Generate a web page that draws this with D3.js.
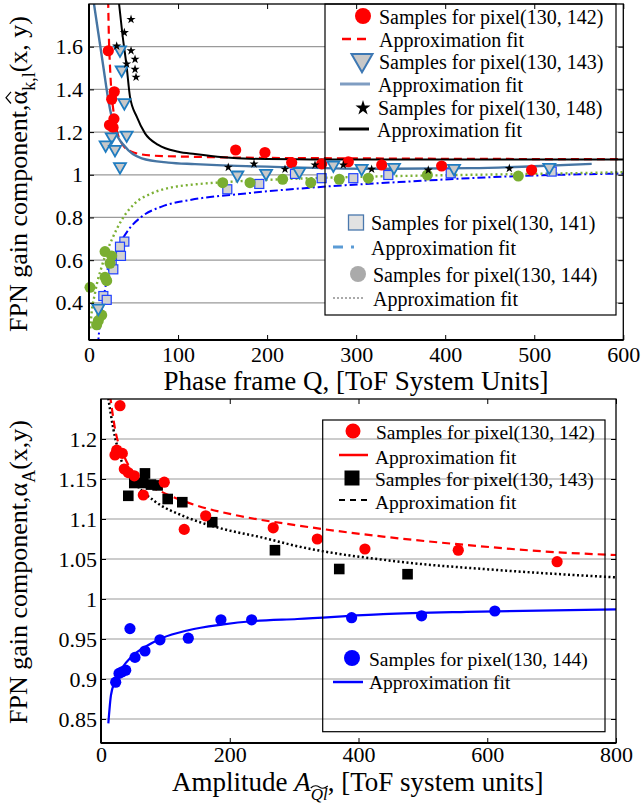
<!DOCTYPE html>
<html>
<head>
<meta charset="utf-8">
<script src="https://cdn.jsdelivr.net/npm/d3@7"></script>
<style>
  body { margin: 0; background: #fff; }
  svg { display: block; }
  text { font-family: "Liberation Serif", "Times New Roman", serif; fill: #000; }
</style>
</head>
<body>
<svg id="chart" width="642" height="804"></svg>
<script>
// ---------- Upper panel: FPN gain vs. phase frame Q ----------
const qTicks = [0, 100, 200, 300, 400, 500, 600];
const gainTicksQ = [0.4, 0.6, 0.8, 1.0, 1.2, 1.4, 1.6];

// samples per pixel: [Q, gain]
const samplesQ142 = [[21.7,1.581],[28.4,1.389],[25.5,1.354],[28.0,1.262],[23.0,1.233],[27.0,1.222],
  [164.7,1.116],[197.6,1.104],[227.6,1.057],[261.3,1.051],[291.2,1.061],[328.7,1.046],[396,1.041],[497,1.022]];
const samplesQ143 = [[34.8,1.585],[36.7,1.491],[39.7,1.338],[25.5,1.178],[42.3,1.186],[18.7,1.140],[29.2,1.119],
  [34.8,1.038],[10.5,0.375],[166.6,0.999],[198.8,1.007],[236.2,1.015],[274.4,1.046],[306.2,1.030],[342.5,1.035],
  [409.9,1.030],[516.9,1.035]];
const samplesQ148 = [[47.2,1.728],[39.7,1.666],[31.1,1.603],[47.2,1.581],[51.7,1.541],[42.3,1.519],[51.7,1.494],
  [52.8,1.457],[156.4,1.035],[185.3,1.051],[220.1,1.026],[253.8,1.046],[285.6,1.046],[317.4,1.026],[381,1.022],[472,1.030]];
const samplesQ141 = [[39.7,0.687],[34.8,0.663],[35.9,0.620],[25.5,0.578],[27.3,0.557],[16.1,0.432],[19.9,0.414],
  [155.3,0.932],[191.2,0.957],[231.3,1.004],[261.3,0.984],[296.8,0.984],[336.1,0.999],[406.2,1.007],[519.6,1.015]];
const samplesQ144 = [[18,0.640],[25.5,0.620],[23.6,0.585],[18,0.520],[19.9,0.504],[1.1,0.473],[14.3,0.343],
  [10.5,0.317],[8.6,0.297],[150.1,0.963],[180.8,0.963],[217.5,0.979],[249,0.963],[281.1,0.979],[313.7,0.984],
  [379.9,0.999],[482.1,0.994]];

// approximation fits, traced as [Q, gain]
const fitQ142 = [[21.5,1.82],[22.3,1.65],[23.6,1.506],[25.3,1.38],[27.3,1.304],[31.1,1.21],[36.7,1.148],[47.9,1.108],
  [70.4,1.090],[119,1.084],[200,1.079],[300,1.077],[400,1.075],[600,1.073]];
const fitQ143 = [[4.9,1.82],[10.5,1.663],[16.1,1.506],[21.7,1.35],[29.2,1.21],[40.4,1.132],[59.2,1.077],[89,1.057],
  [119,1.050],[150,1.044],[225,1.035],[320,1.028],[430,1.031],[500,1.040],[564.5,1.051]];
const fitQ148 = [[33.7,1.803],[37.4,1.663],[42.3,1.506],[46.0,1.366],[53.6,1.272],[62.9,1.194],[77.8,1.140],
  [100.3,1.108],[119,1.097],[150.8,1.082],[180.8,1.075],[250,1.072],[400,1.071],[600,1.071]];
const fitQ141 = [[10,0.2],[10.5,0.226],[16.1,0.414],[23.6,0.57],[32.9,0.663],[44.1,0.741],[59.2,0.804],[81.6,0.851],
  [115,0.883],[170,0.91],[263,0.944],[357,0.968],[469,0.992],[600,1.006]];
const fitQ144 = [[1.5,0.28],[2.2,0.32],[6.7,0.445],[14.3,0.57],[25.5,0.695],[36.7,0.788],[51.7,0.867],[70.4,0.913],
  [92.9,0.941],[119,0.955],[150,0.965],[210,0.978],[300,0.99],[400,0.998],[500,1.004],[600,1.012]];

// ---------- Lower panel: FPN gain vs. amplitude ----------
const ampTicks = [0, 200, 400, 600, 800];
const gainTicksA = [0.85, 0.9, 0.95, 1.0, 1.05, 1.1, 1.15, 1.2];

const samplesA142 = [[29.5,1.2416],[24.4,1.186],[21.7,1.180],[33.1,1.182],[36.2,1.1625],[42.4,1.158],[51.7,1.154],
  [65.7,1.130],[98.3,1.146],[129.3,1.087],[162.6,1.104],[267.5,1.089],[336,1.075],[410,1.0625],[555,1.061],[708.5,1.0466]];
const samplesA143 = [[42.4,1.129],[51.7,1.145],[68.3,1.157],[65.7,1.145],[77.6,1.143],[88,1.142],[103.6,1.125],
  [126.3,1.121],[172.8,1.096],[270.2,1.061],[370.1,1.0375],[476.2,1.031]];
const samplesA144 = [[45,0.963],[22.8,0.896],[28,0.907],[33,0.909],[38.4,0.911],[52.8,0.927],[68.3,0.935],
  [91.6,0.949],[135.6,0.951],[186.3,0.974],[234,0.974],[389.3,0.9766],[498,0.979],[611.8,0.985]];

const fitA142 = [[14,1.255],[21.7,1.213],[37.3,1.176],[57.9,1.151],[94.3,1.134],[146,1.1175],[208,1.105],
  [305,1.092],[438,1.078],[568,1.0675],[697,1.059],[800,1.055]];
const fitA143 = [[11.4,1.251],[19.1,1.213],[32.1,1.172],[52.8,1.145],[83.9,1.122],[130.4,1.103],[187.4,1.088],
  [249.5,1.077],[305,1.066],[464,1.0466],[620,1.036],[800,1.027]];
const fitA144 = [[11.4,0.8446],[15.5,0.88],[21.7,0.8967],[32.1,0.913],[47.6,0.928],[68.3,0.940],[94.3,0.951],
  [135.6,0.961],[187.4,0.968],[239,0.9725],[305,0.975],[438,0.981],[568,0.984],[800,0.987]];

const SERIF = '"Liberation Serif", "Times New Roman", serif';
const svg = d3.select("#chart");
const fmt = d3.format("~g");

function trianglePath(w) {
  const h = w * 0.87;
  return `M${-w/2},${-h/3}H${w/2}L0,${2*h/3}Z`;
}

function frameAndAxes(g, x, y, xTicks, yTicks, xPad, yPad, fs) {
  const [x0, x1] = x.range(), [y0, y1] = y.range();
  const style = sel => {
    sel.select(".domain").remove();
    sel.attr("font-family", SERIF).attr("font-size", fs);
    sel.selectAll(".tick line").attr("stroke", "#000").attr("stroke-width", 1);
    sel.selectAll(".tick text").attr("fill", "#000");
  };
  g.append("g").attr("transform", `translate(0,${y0})`)
    .call(d3.axisBottom(x).tickValues(xTicks).tickFormat(fmt).tickSizeInner(-5).tickSizeOuter(0).tickPadding(xPad)).call(style);
  g.append("g").attr("transform", `translate(0,${y1})`)
    .call(d3.axisTop(x).tickValues(xTicks).tickFormat("").tickSizeInner(-5).tickSizeOuter(0)).call(style);
  g.append("g").attr("transform", `translate(${x0},0)`)
    .call(d3.axisLeft(y).tickValues(yTicks).tickFormat(fmt).tickSizeInner(-5).tickSizeOuter(0).tickPadding(yPad)).call(style);
  g.append("g").attr("transform", `translate(${x1},0)`)
    .call(d3.axisRight(y).tickValues(yTicks).tickFormat("").tickSizeInner(-5).tickSizeOuter(0)).call(style);
  g.append("rect").attr("x", x0).attr("y", y1).attr("width", x1 - x0).attr("height", y0 - y1)
    .attr("fill", "none").attr("stroke", "#000").attr("stroke-width", 1.3);
  g.append("line").attr("x1", x0).attr("x2", x0).attr("y1", y1).attr("y2", y0).attr("stroke", "#000").attr("stroke-width", 2);
  g.append("line").attr("x1", x0).attr("x2", x1).attr("y1", y0).attr("y2", y0).attr("stroke", "#000").attr("stroke-width", 2);
}

function grid(g, x, y, ticks) {
  g.selectAll(null).data(ticks).join("line")
    .attr("x1", x.range()[0]).attr("x2", x.range()[1])
    .attr("y1", d => y(d)).attr("y2", d => y(d))
    .attr("stroke", "#9a9a9a").attr("stroke-width", 1.2);
}

function legendText(g, x, yc, label, fs) {
  g.append("text").attr("x", x).attr("y", yc).attr("dy", "0.35em").attr("font-size", fs).text(label);
}

// ================= Upper panel =================
const xQ = d3.scaleLinear().domain([0, 600]).range([89, 623.3]);
const yQ = d3.scaleLinear().domain([0.226, 1.8]).range([340, 4]);
const panelQ = svg.append("g");

svg.append("clipPath").attr("id", "clipTop").append("rect")
  .attr("x", 89).attr("y", 4).attr("width", 534.3).attr("height", 336);

grid(panelQ, xQ, yQ, gainTicksQ);
// legend panel background sits under the data
panelQ.append("rect").attr("x", 325).attr("y", 4).attr("width", 291).attr("height", 311).attr("fill", "#fff");

const lineQ = d3.line().x(d => xQ(d[0])).y(d => yQ(d[1])).curve(d3.curveMonotoneX);
const curvesTop = panelQ.append("g").attr("clip-path", "url(#clipTop)");
curvesTop.append("path").attr("d", lineQ(fitQ141)).attr("fill", "none").attr("stroke", "#0000ff")
  .attr("stroke-width", 2).attr("stroke-dasharray", "8,3,2,3");
curvesTop.append("path").attr("d", lineQ(fitQ144)).attr("fill", "none").attr("stroke", "#7cb034")
  .attr("stroke-width", 2.4).attr("stroke-dasharray", "2,3");
curvesTop.append("path").attr("d", lineQ(fitQ142)).attr("fill", "none").attr("stroke", "#ff0000")
  .attr("stroke-width", 2.2).attr("stroke-dasharray", "8,5");
curvesTop.append("path").attr("d", lineQ(fitQ143)).attr("fill", "none").attr("stroke", "#4675a3")
  .attr("stroke-width", 2.4);
curvesTop.append("path").attr("d", lineQ(fitQ148)).attr("fill", "none").attr("stroke", "#000")
  .attr("stroke-width", 2);

panelQ.selectAll(null).data(samplesQ141).join("rect")
  .attr("x", d => xQ(d[0]) - 4.5).attr("y", d => yQ(d[1]) - 4.5).attr("width", 9).attr("height", 9)
  .attr("fill", "#d2d2d2").attr("stroke", "#2040ff").attr("stroke-width", 1.2);
panelQ.selectAll(null).data(samplesQ144).join("circle")
  .attr("cx", d => xQ(d[0])).attr("cy", d => yQ(d[1])).attr("r", 5.5).attr("fill", "#7aae31");
panelQ.selectAll(null).data(samplesQ142).join("circle")
  .attr("cx", d => xQ(d[0])).attr("cy", d => yQ(d[1])).attr("r", 5.6).attr("fill", "#ff0000");
panelQ.selectAll(null).data(samplesQ143).join("path")
  .attr("transform", d => `translate(${xQ(d[0])},${yQ(d[1])})`).attr("d", trianglePath(12))
  .attr("fill", "#c8c8c8").attr("stroke", "#1f7cc0").attr("stroke-width", 1.8);
panelQ.selectAll(null).data(samplesQ148).join("path")
  .attr("transform", d => `translate(${xQ(d[0])},${yQ(d[1])})`)
  .attr("d", d3.symbol(d3.symbolStar, 26)).attr("fill", "#000");

frameAndAxes(panelQ, xQ, yQ, qTicks, gainTicksQ, 6, 6, 22);

// legend (upper panel)
const legT = panelQ.append("g");
legT.append("rect").attr("x", 325).attr("y", 4).attr("width", 291).attr("height", 311)
  .attr("fill", "none").attr("stroke", "#000").attr("stroke-width", 1.2);
const LF = 20;
legT.append("circle").attr("cx", 363).attr("cy", 16).attr("r", 8).attr("fill", "#ff0000");
legendText(legT, 379, 17, "Samples for pixel(130, 142)", LF);
legT.append("line").attr("x1", 342).attr("x2", 372).attr("y1", 39).attr("y2", 39)
  .attr("stroke", "#ff0000").attr("stroke-width", 2.4).attr("stroke-dasharray", "9,6");
legendText(legT, 379, 40, "Approximation fit", LF);
legT.append("path").attr("transform", "translate(362,60)").attr("d", trianglePath(21))
  .attr("fill", "#c8c8c8").attr("stroke", "#3d78b4").attr("stroke-width", 2);
legendText(legT, 379, 62, "Samples for pixel(130, 143)", LF);
legT.append("line").attr("x1", 340).attr("x2", 370).attr("y1", 84).attr("y2", 84)
  .attr("stroke", "#7f9dc2").attr("stroke-width", 3);
legendText(legT, 378, 85, "Approximation fit", LF);
legT.append("path").attr("transform", "translate(363,108)").attr("d", d3.symbol(d3.symbolStar, 70)).attr("fill", "#000");
legendText(legT, 378, 108, "Samples for pixel(130, 148)", LF);
legT.append("line").attr("x1", 339).attr("x2", 369).attr("y1", 129).attr("y2", 129)
  .attr("stroke", "#000").attr("stroke-width", 3);
legendText(legT, 377, 130, "Approximation fit", LF);

legT.append("rect").attr("x", 348.5).attr("y", 215).attr("width", 15).attr("height", 15)
  .attr("fill", "#e2e2e2").attr("stroke", "#4a78ad").attr("stroke-width", 1.3);
legendText(legT, 371, 223, "Samples for pixel(130, 141)", LF);
legT.append("line").attr("x1", 333).attr("x2", 356).attr("y1", 247).attr("y2", 247)
  .attr("stroke", "#5b9bd5").attr("stroke-width", 3).attr("stroke-dasharray", "10,8,3,8");
legendText(legT, 371, 248, "Approximation fit", LF);
legT.append("circle").attr("cx", 358).attr("cy", 274).attr("r", 8).attr("fill", "#aaaaaa");
legendText(legT, 373, 275, "Samples for pixel(130, 144)", LF);
legT.append("line").attr("x1", 333).attr("x2", 365).attr("y1", 298).attr("y2", 298)
  .attr("stroke", "#aaaaaa").attr("stroke-width", 2.2).attr("stroke-dasharray", "2,2");
legendText(legT, 373, 299, "Approximation fit", LF);

// axis titles (upper panel)
svg.append("text").attr("x", 356).attr("y", 389.5).attr("text-anchor", "middle").attr("font-size", 27)
  .text("Phase frame Q, [ToF System Units]");

const ylabT = svg.append("g").attr("transform", "translate(27,174) rotate(-90)");
const ytT = ylabT.append("text").attr("text-anchor", "middle").attr("font-size", 26);
ytT.append("tspan").text("FPN gain component,");
ytT.append("tspan").text("α");
ytT.append("tspan").attr("font-size", 18).attr("dy", 8).text("k,l");
ytT.append("tspan").attr("dy", -8).text("(x, y)");
{
  const e = ytT.node().getExtentOfChar(19);
  ylabT.append("path")
    .attr("d", `M${e.x + 1},-16L${e.x + e.width / 2},-21L${e.x + e.width - 1},-16`)
    .attr("fill", "none").attr("stroke", "#000").attr("stroke-width", 1.2);
}

// ================= Lower panel =================
const xA = d3.scaleLinear().domain([0, 800]).range([101, 616]);
const yA = d3.scaleLinear().domain([0.82, 1.25]).range([743, 399]);
const panelA = svg.append("g");

svg.append("clipPath").attr("id", "clipBot").append("rect")
  .attr("x", 101).attr("y", 399).attr("width", 515).attr("height", 344);

grid(panelA, xA, yA, gainTicksA);

const lineA = d3.line().x(d => xA(d[0])).y(d => yA(d[1])).curve(d3.curveMonotoneX);
const curvesBot = panelA.append("g").attr("clip-path", "url(#clipBot)");
curvesBot.append("path").attr("d", lineA(fitA143)).attr("fill", "none").attr("stroke", "#000")
  .attr("stroke-width", 2.5).attr("stroke-dasharray", "2,2.5");
curvesBot.append("path").attr("d", lineA(fitA142)).attr("fill", "none").attr("stroke", "#ff0000")
  .attr("stroke-width", 2.2).attr("stroke-dasharray", "8,5");
curvesBot.append("path").attr("d", lineA(fitA144)).attr("fill", "none").attr("stroke", "#0000ff")
  .attr("stroke-width", 2.2);

panelA.selectAll(null).data(samplesA143).join("rect")
  .attr("x", d => xA(d[0]) - 5.3).attr("y", d => yA(d[1]) - 5.3).attr("width", 10.6).attr("height", 10.6)
  .attr("fill", "#000");
panelA.selectAll(null).data(samplesA142).join("circle")
  .attr("cx", d => xA(d[0])).attr("cy", d => yA(d[1])).attr("r", 5.6).attr("fill", "#ff0000");
panelA.selectAll(null).data(samplesA144).join("circle")
  .attr("cx", d => xA(d[0])).attr("cy", d => yA(d[1])).attr("r", 5.6).attr("fill", "#0000ff");

frameAndAxes(panelA, xA, yA, ampTicks, gainTicksA, 3, 4, 22);

// legend (lower panel)
const legB = panelA.append("g");
legB.append("rect").attr("x", 322.7).attr("y", 420).attr("width", 282.3).attr("height", 311.7)
  .attr("fill", "none").attr("stroke", "#000").attr("stroke-width", 1.2);
const LF2 = 19.5;
legB.append("circle").attr("cx", 353).attr("cy", 431).attr("r", 7.5).attr("fill", "#ff0000");
legendText(legB, 376, 432, "Samples for pixel(130, 142)", LF2);
legB.append("line").attr("x1", 339).attr("x2", 368).attr("y1", 455).attr("y2", 455)
  .attr("stroke", "#ff0000").attr("stroke-width", 2.5);
legendText(legB, 375, 457, "Approximation fit", LF2);
legB.append("rect").attr("x", 344.5).attr("y", 470.5).attr("width", 15).attr("height", 15).attr("fill", "#000");
legendText(legB, 375, 479, "Samples for pixel(130, 143)", LF2);
legB.append("line").attr("x1", 339).attr("x2", 368).attr("y1", 500).attr("y2", 500)
  .attr("stroke", "#000").attr("stroke-width", 2).attr("stroke-dasharray", "6,5");
legendText(legB, 375, 502, "Approximation fit", LF2);
legB.append("circle").attr("cx", 352).attr("cy", 658).attr("r", 8).attr("fill", "#0000ff");
legendText(legB, 369, 659, "Samples for pixel(130, 144)", LF2);
legB.append("line").attr("x1", 333).attr("x2", 363).attr("y1", 682).attr("y2", 682)
  .attr("stroke", "#0000ff").attr("stroke-width", 2.5);
legendText(legB, 369, 682, "Approximation fit", LF2);

// axis titles (lower panel)
const xlabB = svg.append("text").attr("x", 172).attr("y", 791).attr("font-size", 27);
xlabB.append("tspan").text("Amplitude ");
xlabB.append("tspan").attr("font-style", "italic").text("A");
xlabB.append("tspan").attr("font-style", "italic").attr("font-size", 17).attr("dy", 9).text("Ql");
xlabB.append("tspan").attr("dy", -9).text(", [ToF system units]");
{
  const q = xlabB.node().getExtentOfChar(11), l = xlabB.node().getExtentOfChar(12);
  const x0 = q.x, w = l.x + l.width - q.x, yy = 787;
  svg.append("path")
    .attr("d", `M${x0},${yy + 1}Q${x0 + w / 4},${yy - 3} ${x0 + w / 2},${yy}T${x0 + w},${yy - 1}`)
    .attr("fill", "none").attr("stroke", "#000").attr("stroke-width", 1.1);
}

const ylabB = svg.append("g").attr("transform", "translate(27,572) rotate(-90)");
const ytB = ylabB.append("text").attr("text-anchor", "middle").attr("font-size", 26);
ytB.append("tspan").text("FPN gain component,");
ytB.append("tspan").text("α");
ytB.append("tspan").attr("font-size", 18).attr("dy", 8).text("A");
ytB.append("tspan").attr("dy", -8).text("(x,y)");
</script>
</body>
</html>
